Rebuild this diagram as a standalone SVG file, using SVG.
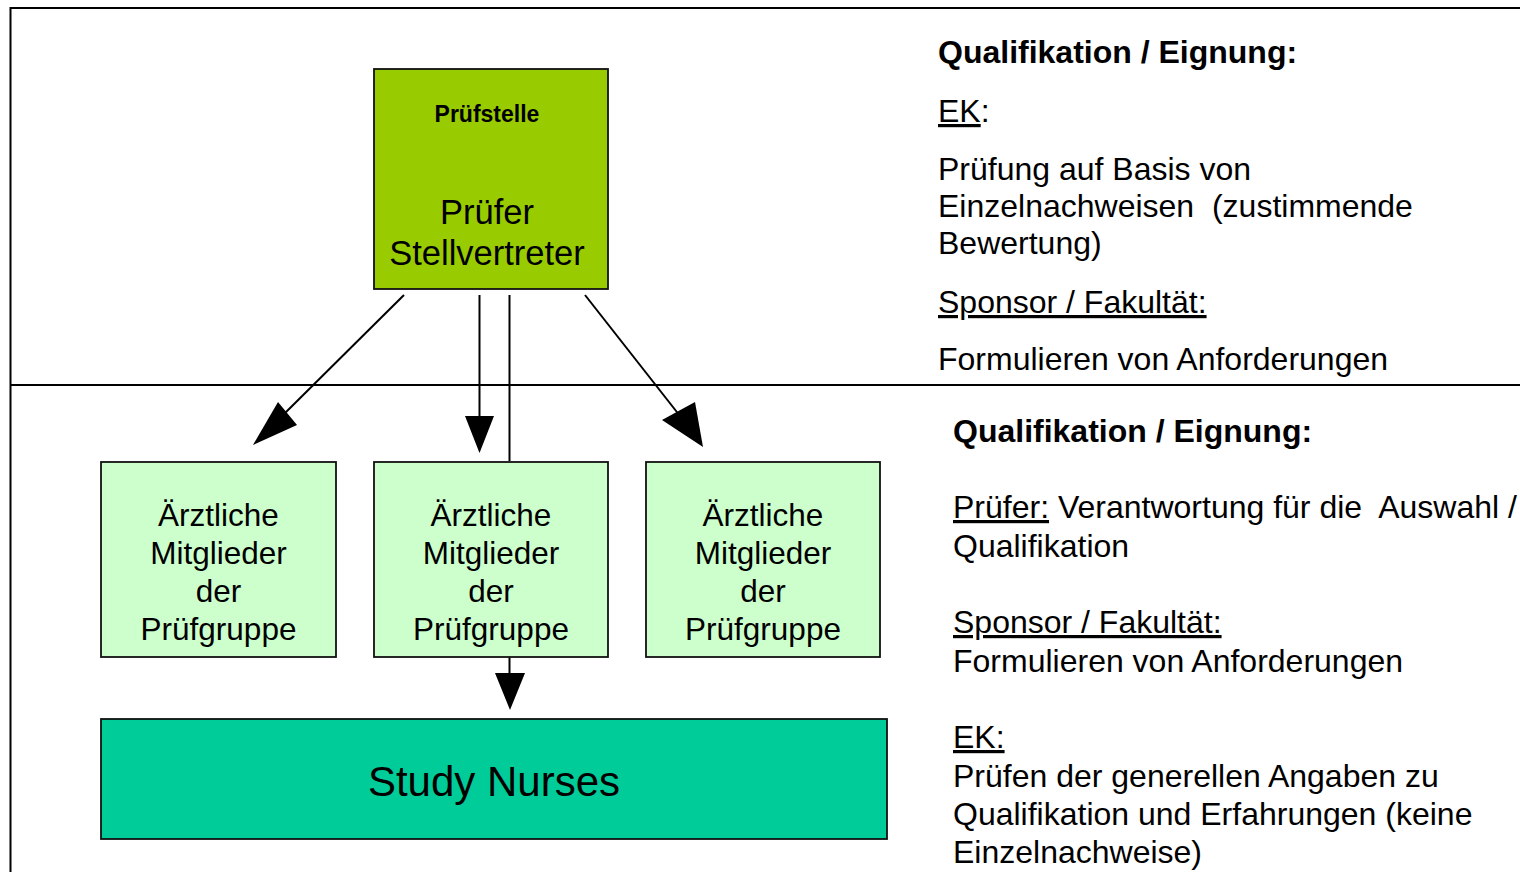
<svg xmlns="http://www.w3.org/2000/svg" width="1520" height="872" viewBox="0 0 1520 872">
  <style>
    text { font-family: "Liberation Sans", Arial, Helvetica, sans-serif; fill: #000; }
    .frame { fill: none; stroke: #000; stroke-width: 2; }
    .box { stroke: #111; stroke-width: 1.8; }
    .head { fill: #99CC00; }
    .member { fill: #CCFFCC; }
    .nurses { fill: #00CC99; }
    .conn { stroke: #000; stroke-width: 2; fill: none; }
    .tip { fill: #000; stroke: none; }
    .mid { text-anchor: middle; }
    .note { font-size: 32px; white-space: pre; }
    .b { font-weight: bold; }
    .u { text-decoration: underline; }
  </style>

  <rect width="1520" height="872" fill="#fff"/>

  <!-- frame and section divider -->
  <g id="frame">
    <path class="frame" d="M10.5,880 V8 H1530"/>
    <line class="frame" x1="10" y1="385" x2="1530" y2="385"/>
  </g>

  <!-- connectors -->
  <g id="connectors">
    <line class="conn" x1="404" y1="295" x2="280" y2="418"/>
    <polygon class="tip" points="253,445 278,402 297,425"/>

    <line class="conn" x1="479.5" y1="295" x2="479.5" y2="418"/>
    <polygon class="tip" points="479.5,453 465,416 494,416"/>

    <line class="conn" x1="509.5" y1="295" x2="509.5" y2="461"/>

    <line class="conn" x1="585" y1="295" x2="680" y2="416"/>
    <polygon class="tip" points="703,447 662,420 695,402"/>

    <line class="conn" x1="509.5" y1="657" x2="509.5" y2="675"/>
    <polygon class="tip" points="510,710 495,673 525,673"/>
  </g>

  <g id="pruefstelle">
    <rect class="box head" x="374" y="69" width="234" height="220"/>
    <text class="mid b" x="487" y="122" font-size="23">Prüfstelle</text>
    <text class="mid" x="487" y="224" font-size="34.5">Prüfer</text>
    <text class="mid" x="487" y="265" font-size="34.5">Stellvertreter</text>
  </g>

  <g id="gruppe-1">
    <rect class="box member" x="101" y="462" width="235" height="195"/>
    <text class="mid" x="218.5" font-size="31.5"><tspan x="218.5" y="526">Ärztliche</tspan><tspan x="218.5" y="564">Mitglieder</tspan><tspan x="218.5" y="602">der</tspan><tspan x="218.5" y="640">Prüfgruppe</tspan></text>
  </g>

  <g id="gruppe-2">
    <rect class="box member" x="374" y="462" width="234" height="195"/>
    <text class="mid" x="491" font-size="31.5"><tspan x="491" y="526">Ärztliche</tspan><tspan x="491" y="564">Mitglieder</tspan><tspan x="491" y="602">der</tspan><tspan x="491" y="640">Prüfgruppe</tspan></text>
  </g>

  <g id="gruppe-3">
    <rect class="box member" x="646" y="462" width="234" height="195"/>
    <text class="mid" x="763" font-size="31.5"><tspan x="763" y="526">Ärztliche</tspan><tspan x="763" y="564">Mitglieder</tspan><tspan x="763" y="602">der</tspan><tspan x="763" y="640">Prüfgruppe</tspan></text>
  </g>

  <g id="study-nurses">
    <rect class="box nurses" x="101" y="719" width="786" height="120"/>
    <text class="mid" x="494" y="796" font-size="42">Study Nurses</text>
  </g>

  <!-- notes, upper section -->
  <g id="notes-top">
    <text class="note b" x="938" y="63">Qualifikation / Eignung:</text>
    <text class="note" x="938" y="122"><tspan class="u">EK</tspan>:</text>
    <text class="note" x="938" y="180">Prüfung auf Basis von</text>
    <text class="note" x="938" y="217">Einzelnachweisen  (zustimmende</text>
    <text class="note" x="938" y="254">Bewertung)</text>
    <text class="note u" x="938" y="313">Sponsor / Fakultät:</text>
    <text class="note" x="938" y="370">Formulieren von Anforderungen</text>
  </g>

  <!-- notes, lower section -->
  <g id="notes-bottom">
    <text class="note b" x="953" y="442">Qualifikation / Eignung:</text>
    <text class="note" x="953" y="518"><tspan class="u">Prüfer:</tspan> Verantwortung für die  Auswahl /</text>
    <text class="note" x="953" y="557">Qualifikation</text>
    <text class="note u" x="953" y="633">Sponsor / Fakultät:</text>
    <text class="note" x="953" y="672">Formulieren von Anforderungen</text>
    <text class="note u" x="953" y="748">EK:</text>
    <text class="note" x="953" y="787">Prüfen der generellen Angaben zu</text>
    <text class="note" x="953" y="825">Qualifikation und Erfahrungen (keine</text>
    <text class="note" x="953" y="863">Einzelnachweise)</text>
  </g>
</svg>
